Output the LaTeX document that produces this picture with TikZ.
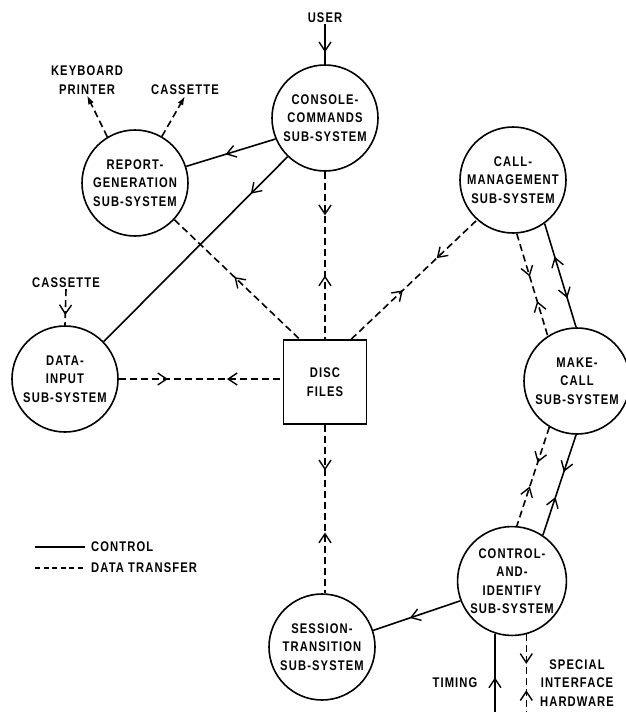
\documentclass[tikz,border=0pt]{standalone}
\usepackage{fontspec}
\usetikzlibrary{arrows.meta,decorations.markings,calc}
\newfontfamily\lf[FakeStretch=0.8,LetterSpace=8]{Liberation Sans}
\begin{document}
\begin{tikzpicture}[x=1pt,y=-1pt,
  lbl/.style={font={\lf\bfseries\fontsize{14}{18.5}\selectfont}, align=center, inner sep=1pt},
  sub/.style={circle, draw, line width=1.6pt, minimum size=106pt, inner sep=0pt, lbl},
  ctl/.style={line width=1.6pt},
  dat/.style={line width=1.6pt, dash pattern=on 7pt off 4pt},
  fw/.style={postaction={decorate, decoration={markings, mark=at position #1 with {\arrow{Straight Barb[length=9pt,width=12pt,line width=1.4pt]}}}}},
  bw/.style={postaction={decorate, decoration={markings, mark=at position #1 with {\arrowreversed{Straight Barb[length=9pt,width=12pt,line width=1.4pt]}}}}},
  outarr/.style={-{Latex[length=9pt,width=6pt]}}
]
\useasboundingbox (0,0) rectangle (625,712);
\coordinate (bot) at (0,712);

% nodes
\node[sub] (cons) at (325,118) {CONSOLE-\\COMMANDS\\SUB-SYSTEM};
\node[sub] (rep)  at (135,183) {REPORT-\\GENERATION\\SUB-SYSTEM};
\node[sub] (call) at (513,180) {CALL-\\MANAGEMENT\\SUB-SYSTEM};
\node[sub] (data) at (65,379)  {DATA-\\INPUT\\SUB-SYSTEM};
\node[sub] (make) at (577,381) {MAKE-\\CALL\\SUB-SYSTEM};
\node[sub] (ctrl) at (512,581) {CONTROL-\\AND-\\IDENTIFY\\SUB-SYSTEM};
\node[sub] (sess) at (322,647) {SESSION-\\TRANSITION\\SUB-SYSTEM};
\node[draw, line width=1.6pt, minimum width=83pt, minimum height=84pt, lbl] (disc) at (325,382) {DISC\\FILES};

\node[lbl] (user) at (325,18) {USER};
\node[lbl] (kp)   at (87,80)  {KEYBOARD\\PRINTER};
\node[lbl] (cas1) at (185,90) {CASSETTE};
\node[lbl] (cas2) at (66,283) {CASSETTE};
\node[lbl] (tim)  at (455,683) {TIMING};
\node[lbl] (spec) at (577,683) {SPECIAL\\INTERFACE\\HARDWARE};

% connectors
\draw[ctl, fw=0.7] (user.south) -- (cons.north);
\draw[ctl, fw=0.56] (cons.-157) -- (rep.18);
\draw[ctl, fw=0.2] (cons.-134) -- (data.44);
\draw[dat, fw=0.26, bw=0.62] (cons.south) -- (cons.south |- disc.north);
\draw[dat, bw=0.48] (rep.-43) -- ($(disc.north west)!0.2!(disc.north east)$);
\draw[dat, fw=0.3, bw=0.66] (data.east) -- (data.east -| disc.west);
\draw[dat, fw=0.72] (cas2.south) -- (data.north);
\draw[dat, fw=0.41, bw=0.68] ($(disc.north west)!0.81!(disc.north east)$) -- (call.-132);
\draw[dat, fw=0.27, bw=0.64] (disc.south) -- (disc.south |- sess.north);
\draw[dat, fw=0.42, bw=0.66] (call.-86) -- (make.123);
\draw[ctl, bw=0.32, fw=0.72] (call.-54) -- (make.91);
\draw[dat, fw=0.36, bw=0.6] (make.-121) -- (ctrl.85);
\draw[ctl, fw=0.37, bw=0.62] (make.-91) -- (ctrl.56);
\draw[ctl, fw=0.58] (ctrl.-159) -- (sess.18);
\draw[ctl, fw=0.44] (ctrl.-108 |- bot) -- (ctrl.-108);
\draw[dat, fw=0.38, bw=0.72] (ctrl.-75) -- (ctrl.-75 |- bot);
\draw[dat, outarr] (rep.121) -- (kp.south);
\draw[dat, outarr] (rep.60) -- (cas1.south);

% legend
\node[lbl, anchor=west] (lc) at (90,547) {CONTROL};
\node[lbl, anchor=west] (ld) at (90,568) {DATA TRANSFER};
\draw[ctl] ([xshift=-55pt]lc.west) -- ([xshift=-5pt]lc.west);
\draw[line width=1.6pt, dash pattern=on 5pt off 3.5pt] ([xshift=-55pt]ld.west) -- ([xshift=-5pt]ld.west);
\end{tikzpicture}
\end{document}
